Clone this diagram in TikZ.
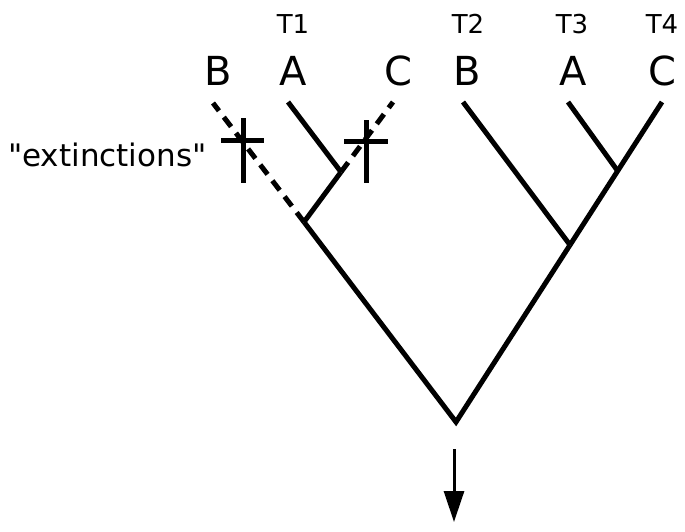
\documentclass[tikz,border=0pt]{standalone}
\usepackage{fontspec}
\setmainfont{DejaVu Sans}[Ligatures=TeXOff]
\usepackage{tikz}
\usetikzlibrary{arrows.meta,positioning,calc}

\begin{document}
\begin{tikzpicture}[x=1pt,y=-1pt,
        branch/.style={line width=5pt},
        lost/.style={line width=5pt, dash pattern=on 12pt off 8pt},
        taxon/.style={font=\fontsize{40}{42}\selectfont, inner sep=0pt, anchor=base},
        time/.style={font=\fontsize{26}{28}\selectfont, inner sep=0pt, anchor=base}]
        \useasboundingbox (0,0) rectangle (685,531);
        % Branch points
        \coordinate (root) at (456,422);
        \coordinate (lfork) at (304,222);
        \coordinate (rfork) at (570,245);
        \coordinate (lsplit) at (341,172);
        \coordinate (rsplit) at (617,170);
        \coordinate (lB) at (213,103);
        \coordinate (lA) at (288,102);
        \coordinate (lC) at (393,102);
        \coordinate (rB) at (463,102);
        \coordinate (rA) at (568,102);
        \coordinate (rC) at (662,102);
        % Labels
        \node[time] (t1) at (293,33) {T1};
        \node[time] (t2) at (468,33) {T2};
        \node[time] (t3) at (572,33) {T3};
        \node[time] (t4) at (662,33) {T4};
        \node[taxon] (labB1) at (218,85.5) {B};
        \node[taxon] (labA1) at (293,85.5) {A};
        \node[taxon] (labC1) at (398,85.5) {C};
        \node[taxon] (labB2) at (467,85.5) {B};
        \node[taxon] (labA2) at (573,85.5) {A};
        \node[taxon] (labC2) at (662,85.5) {C};
        \node[font=\fontsize{31}{33}\selectfont, inner sep=0pt, anchor=base west] (ext) at (8,166) {"extinctions"};
        % Draw tree
        \draw[branch, miter limit=20] (lfork) -- (root) -- (rfork);
        \draw[lost] (lfork) -- (lB);
        \draw[branch] (lfork) -- (lsplit);
        \draw[branch] (lsplit) -- (lA);
        \draw[lost] (lsplit) -- (lC);
        \draw[branch] (rfork) -- (rB);
        \draw[branch] (rfork) -- (rC);
        \draw[branch] (rsplit) -- (rA);
        % Draw crosses
        \draw[branch] (243,118) -- (243,183) (221,140) -- (264,140);
        \draw[branch] (366,120) -- (366,183) (344,141) -- (388,141);
        % Draw arrow
        \coordinate (arrtop) at (454,449);
        \coordinate (arrend) at (454,522);
        \draw[line width=3pt, -{Triangle[length=31pt,width=20pt]}] (arrtop) -- (arrend);
\end{tikzpicture}
\end{document}
